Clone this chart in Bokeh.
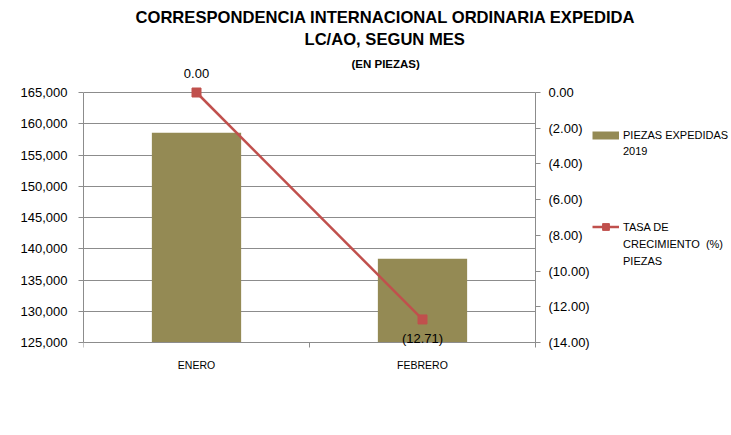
from bokeh.plotting import figure
from bokeh.models import (Range1d, LinearAxis, FixedTicker, NumeralTickFormatter,
                          Label, Legend, LegendItem, Title, Grid)
from bokeh.embed import file_html
from bokeh.resources import INLINE

# ---------------- data ----------------
categories = ["ENERO", "FEBRERO"]
piezas_2019 = [158550, 138400]
tasa_crecimiento = [0.00, -12.71]
left_ticks = [125000, 130000, 135000, 140000, 145000, 150000, 155000, 160000, 165000]
right_ticks = [-14, -12, -10, -8, -6, -4, -2, 0]
title_lines = ["CORRESPONDENCIA INTERNACIONAL ORDINARIA EXPEDIDA",
               "LC/AO, SEGUN MES"]
subtitle = "(EN PIEZAS)"
legend_bar_lines = ["PIEZAS EXPEDIDAS", "2019"]
legend_line_lines = ["TASA DE", "CRECIMIENTO  (%)", "PIEZAS"]

# ---------------- style / layout ----------------
FONT = "Liberation Sans"
BAR_COLOR = "#948A54"
LINE_COLOR = "#C0504D"
GRID_COLOR = "#8C8C8C"
TEXT_COLOR = "#000000"
NAN = float("nan")

W, H = 731, 435
PX_LEFT, PX_RIGHT = 83, 535      # plot area (axis positions)
PX_TOP, PX_BOTTOM = 92, 342      # top and bottom gridlines
FRAME_TOP = 66                   # frame extends above top gridline for labels

FW = W - PX_LEFT                 # frame runs to the right edge (legend inside)
PW = PX_RIGHT - PX_LEFT          # width of the category area
FH = PX_BOTTOM - PX_TOP
EXTRA_TOP = PX_TOP - FRAME_TOP
EXTRA_BOT = H - PX_BOTTOM
L0, L1 = left_ticks[0], left_ticks[-1]
R0, R1 = right_ticks[0], right_ticks[-1]
lpp = (L1 - L0) / FH
rpp = (R1 - R0) / FH
NX = len(categories)

xs = [i + 0.5 for i in range(NX)]

p = figure(frame_width=FW, frame_height=H - FRAME_TOP,
           min_border_left=PX_LEFT, min_border_top=FRAME_TOP,
           min_border_right=0, min_border_bottom=0,
           x_range=Range1d(0, NX * FW / PW),
           y_range=Range1d(L0 - EXTRA_BOT * lpp, L1 + EXTRA_TOP * lpp),
           output_backend="svg", toolbar_location=None,
           background_fill_color="white", border_fill_color="white")
p.outline_line_color = None
p.extra_y_ranges = {"right": Range1d(R0 - EXTRA_BOT * rpp, R1 + EXTRA_TOP * rpp)}

# left axis
ya = p.yaxis[0]
ya.ticker = FixedTicker(ticks=left_ticks, minor_ticks=[])
ya.formatter = NumeralTickFormatter(format="0,0")
ya.bounds = (L0, L1)
ya.axis_line_color = GRID_COLOR
ya.major_tick_line_color = GRID_COLOR
ya.major_tick_out = 5
ya.major_tick_in = 0
ya.major_label_standoff = 11
ya.major_label_text_font = FONT
ya.major_label_text_font_size = "13px"
ya.major_label_text_color = TEXT_COLOR

# right axis, fixed at the right end of the category area
ra = LinearAxis(y_range_name="right", fixed_location=NX,
                ticker=FixedTicker(ticks=right_ticks, minor_ticks=[]),
                formatter=NumeralTickFormatter(format="(0.00)"))
ra.bounds = (R0, R1)
ra.axis_line_color = GRID_COLOR
ra.major_tick_line_color = GRID_COLOR
ra.major_tick_out = 5
ra.major_tick_in = 0
ra.major_label_standoff = 8
ra.major_label_text_font = FONT
ra.major_label_text_font_size = "13px"
ra.major_label_text_color = TEXT_COLOR
p.add_layout(ra, "right")

# bottom axis, fixed at the bottom of the value scale
xa = p.xaxis[0]
xa.fixed_location = L0
xa.ticker = FixedTicker(ticks=xs, minor_ticks=[float(i) for i in range(NX + 1)])
xa.major_label_overrides = {x: c for x, c in zip(xs, categories)}
xa.bounds = (0, NX)
xa.axis_line_color = GRID_COLOR
xa.major_tick_out = 0
xa.major_tick_in = 0
xa.minor_tick_line_color = GRID_COLOR
xa.minor_tick_out = 5
xa.minor_tick_in = 0
xa.major_label_standoff = 11
xa.major_label_text_font = FONT
xa.major_label_text_font_size = "10.5px"
xa.major_label_text_color = TEXT_COLOR

p.xgrid.visible = False
if "cross_bounds" in Grid.properties():
    p.ygrid.cross_bounds = (0, NX)
    p.ygrid.grid_line_color = GRID_COLOR
    p.ygrid.grid_line_width = 1
else:
    p.ygrid.visible = False
    p.segment(x0=0, x1=NX, y0=left_ticks[1:], y1=left_ticks[1:],
              line_color=GRID_COLOR, line_width=1)

# bars
bars = p.vbar(x=xs, top=piezas_2019, bottom=L0, width=0.395,
              fill_color=BAR_COLOR, line_color=None)

# growth line
ln = p.line(xs, tasa_crecimiento, y_range_name="right",
            line_color=LINE_COLOR, line_width=2.5)
mk = p.scatter(xs, tasa_crecimiento, y_range_name="right", marker="square",
               size=9, fill_color=LINE_COLOR, line_color=LINE_COLOR)

# data labels
for x, v in zip(xs, tasa_crecimiento):
    txt = "{:.2f}".format(abs(v))
    if v < 0:
        txt = "(" + txt + ")"
    p.add_layout(Label(x=x, y=v, y_range_name="right", text=txt,
                       text_align="center", text_baseline="middle",
                       y_offset=19 if v >= 0 else -19,
                       text_font=FONT, text_font_size="13px",
                       text_color=TEXT_COLOR))

# titles (added from the frame outward)
p.add_layout(Title(text=subtitle, align="left", offset=268, standoff=-7,
                   text_font=FONT, text_font_style="bold", text_font_size="11.5px",
                   text_color=TEXT_COLOR), "above")
p.add_layout(Title(text=title_lines[1], align="left", offset=221, standoff=22,
                   text_font=FONT, text_font_style="bold", text_font_size="16.6px",
                   text_color=TEXT_COLOR), "above")
p.add_layout(Title(text=title_lines[0], align="left", offset=52, standoff=-21,
                   text_font=FONT, text_font_style="bold", text_font_size="16.6px",
                   text_color=TEXT_COLOR), "above")

# legends: one row per text line; proxies draw the swatches
swatch = p.line(x=[NAN], y=[NAN], line_color=BAR_COLOR, line_width=8)
blank = p.line(x=[NAN], y=[NAN], line_alpha=0)


def make_legend(lines, first_renderers, bottom_px, row_h):
    items = [LegendItem(label=t, renderers=(first_renderers if i == 0 else [blank]))
             for i, t in enumerate(lines)]
    return Legend(items=items, location=(592 - PX_LEFT, H - bottom_px),
                  glyph_width=27, glyph_height=row_h, label_height=row_h,
                  label_standoff=4, padding=0, margin=0, spacing=0,
                  border_line_color=None, background_fill_alpha=0,
                  label_text_font=FONT, label_text_font_size="11px",
                  label_text_color=TEXT_COLOR)


p.add_layout(make_legend(legend_bar_lines, [swatch], 159, 16), "center")
p.add_layout(make_legend(legend_line_lines, [ln, mk], 269, 17), "center")

open("out.html", "w").write(file_html(p, INLINE))
